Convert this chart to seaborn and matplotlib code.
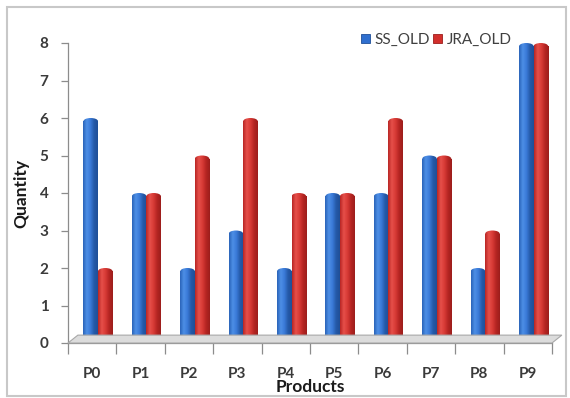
import numpy as np
import pandas as pd
import matplotlib
matplotlib.use("Agg")
import matplotlib.pyplot as plt
from matplotlib.colors import LinearSegmentedColormap
from matplotlib.patches import Polygon, Rectangle, Ellipse
import seaborn as sns

# Chart data
products = ["P0", "P1", "P2", "P3", "P4", "P5", "P6", "P7", "P8", "P9"]
ss_old = [6, 4, 2, 3, 2, 4, 4, 5, 2, 8]
jra_old = [2, 4, 5, 6, 4, 4, 6, 5, 3, 8]
series_names = ["SS_OLD", "JRA_OLD"]
y_ticks = [0, 1, 2, 3, 4, 5, 6, 7, 8]

sns.set_style("white")
plt.rcParams["font.family"] = ["Lato", "DejaVu Sans"]

df = pd.DataFrame({
    "Product": products * 2,
    "Quantity": ss_old + jra_old,
    "Series": [series_names[0]] * len(products) + [series_names[1]] * len(products),
})

blue = "#2f6fcf"
red = "#d22f2c"

W, H = 570, 398
fig = plt.figure(figsize=(W / 100, H / 100), dpi=100)
ax = fig.add_axes([68 / W, 1 - 343 / H, (552 - 68) / W, (343 - 43) / H])

sns.barplot(data=df, x="Product", y="Quantity", hue="Series",
            palette=[blue, red], width=0.6, ax=ax, legend=False,
            saturation=1, linewidth=0)

# 3D depth offset for bars and floor
depth_x, depth_y = 0.12, 0.21
cap_h = 0.17  # height of the rounded cylinder cap, in data units

cmaps = {
    "b": LinearSegmentedColormap.from_list("b", ["#2a63b8", "#4d8fe6", "#3a7ad8", "#2559a8", "#1f4f98"]),
    "r": LinearSegmentedColormap.from_list("r", ["#b82624", "#e6504a", "#d83a36", "#b52522", "#9c1e1c"]),
}
grad = np.linspace(0, 1, 64).reshape(1, -1)
bars = [p for p in ax.patches if isinstance(p, Rectangle) and p.get_height() > 0]
for p in bars:
    p.set_x(p.get_x() + depth_x)
    fc = matplotlib.colors.to_hex(p.get_facecolor())
    cm = cmaps["b"] if fc.lower() == blue else cmaps["r"]
    x0, y0 = p.get_x(), p.get_y()
    w = p.get_width()
    top = y0 + p.get_height()
    # straight body, shortened so the cap rounds off the top at the value
    p.set_height(p.get_height() - cap_h / 2)
    p.set_facecolor("none")
    im = ax.imshow(grad, extent=(x0, x0 + w, y0, top), aspect="auto", cmap=cm,
                   zorder=2.1, interpolation="bilinear")
    im.set_clip_path(p)
    cap = Ellipse((x0 + w / 2, top - cap_h / 2), w, cap_h, facecolor="none",
                  edgecolor="none")
    ax.add_patch(cap)
    im2 = ax.imshow(grad, extent=(x0, x0 + w, y0, top), aspect="auto", cmap=cm,
                    zorder=2.1, interpolation="bilinear")
    im2.set_clip_path(cap)

# Floor slab
floor = Polygon([(-0.5, 0), (9.5, 0), (9.5 + depth_x * 1.7, depth_y), (-0.5 + depth_x * 1.7, depth_y)],
                closed=True, facecolor="#dcdcdc", edgecolor="#a8a8a8", linewidth=0.8,
                zorder=5, clip_on=False)
ax.add_patch(floor)

ax.set_xlim(-0.5, 9.5)
ax.set_ylim(0, 8)
ax.set_yticks(y_ticks)

for s in ["top", "right"]:
    ax.spines[s].set_visible(False)
for s in ["left", "bottom"]:
    ax.spines[s].set_color("#8c8c8c")
    ax.spines[s].set_linewidth(0.9)

ax.set_xticks(np.arange(-0.5, 10, 1.0), minor=True)
ax.tick_params(axis="x", which="major", length=0, pad=17, labelsize=11,
               labelcolor="#3a3a3a")
ax.tick_params(axis="x", which="minor", length=8, width=0.9, color="#8c8c8c",
               direction="out", bottom=True)
ax.tick_params(axis="y", length=5, width=0.9, color="#8c8c8c", direction="out",
               left=True, pad=9, labelsize=11, labelcolor="#3a3a3a")
for lab in ax.get_xticklabels() + ax.get_yticklabels():
    lab.set_fontweight("bold")

ax.set_xlabel("Products", fontsize=12.5, fontweight="bold", color="#1a1a1a", labelpad=-1)
ax.set_ylabel("Quantity", fontsize=12.5, fontweight="bold", color="#1a1a1a", labelpad=7)

handles = [Rectangle((0, 0), 1, 1, facecolor=blue, edgecolor="#1f4f98", linewidth=0.6),
           Rectangle((0, 0), 1, 1, facecolor=red, edgecolor="#9c1e1c", linewidth=0.6)]
leg = ax.legend(handles, series_names, loc="center right", bbox_to_anchor=(0.93, 1.01),
                ncol=2, frameon=False, fontsize=11, handlelength=0.6, handleheight=0.6,
                handletextpad=0.3, columnspacing=0.2, borderaxespad=0)
for t in leg.get_texts():
    t.set_color("#404040")

# Outer chart border
fig.patches.append(Rectangle((7 / W, 2 / H), (W - 11) / W, (H - 9) / H,
                             transform=fig.transFigure, fill=False,
                             edgecolor="#c8c8c8", linewidth=1.5))

fig.savefig("out.png", dpi=100)
